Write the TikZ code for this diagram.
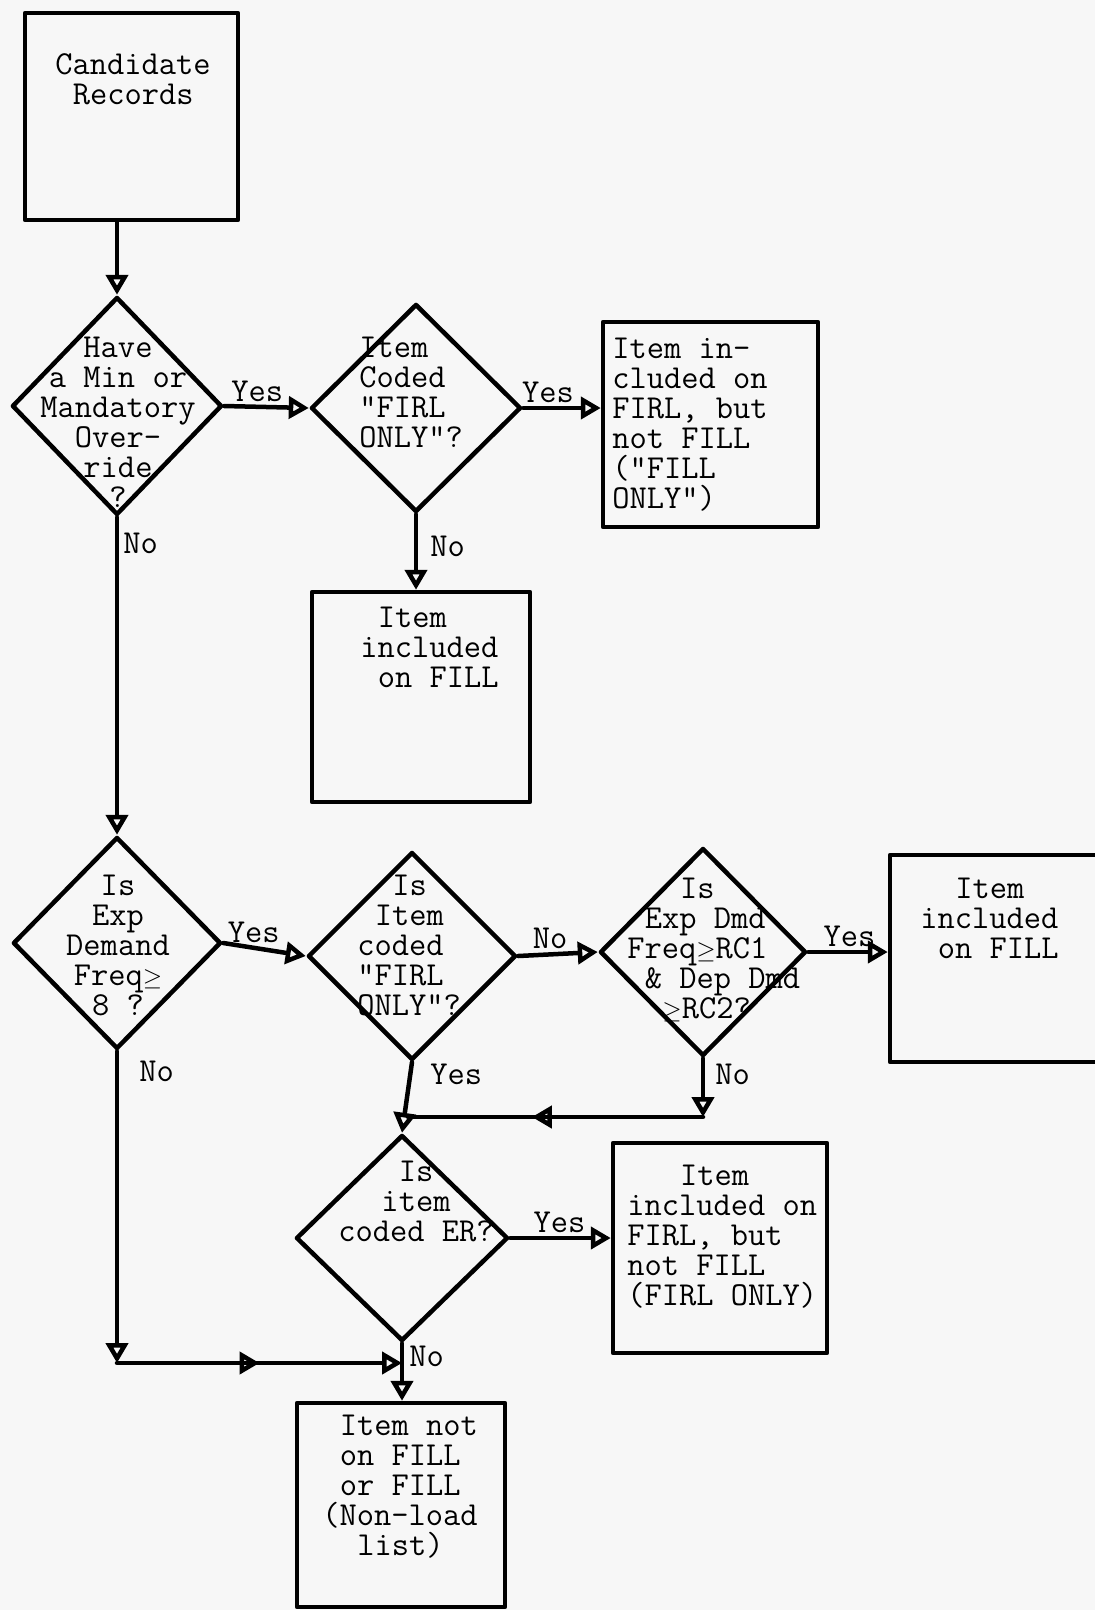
\documentclass[tikz,border=0pt]{standalone}
\usepackage{fontspec}
\usetikzlibrary{shapes.geometric,arrows.meta,decorations.markings}
\newcommand\tsp{\hspace*{0.525em}}
\begin{document}
\begin{tikzpicture}[x=1pt,y=-1pt,line width=4.5pt,line join=round,line cap=round,
    >={Triangle[open,length=20pt,width=22pt]},
    font=\ttfamily\fontsize{33.5}{30}\selectfont,
    box/.style={draw,inner sep=0pt},
    dec/.style={draw,diamond,inner sep=0pt},
    txt/.style={inner sep=0pt,align=left},
    lab/.style={inner sep=0pt},
    midarr/.style={postaction={decorate,decoration={markings,mark=at position #1 with {\arrow{>}}}}}]
    \fill[black!3] (0,0) rectangle (1095,1610);
    \useasboundingbox (0,0) rectangle (1095,1610);
    % boxes
    \node[box,minimum width=213pt,minimum height=207pt] (cand) at (131.5,116.5) {};
    \node[box,minimum width=215pt,minimum height=205pt] (fillonly) at (710.5,424.5) {};
    \node[box,minimum width=218pt,minimum height=210pt] (fill1) at (421,697) {};
    \node[box,minimum width=230pt,minimum height=207pt] (fill2) at (1005,958.5) {};
    \node[box,minimum width=214pt,minimum height=210pt] (firlonly) at (720,1248) {};
    \node[box,minimum width=208pt,minimum height=204pt] (nonload) at (401,1505) {};
    % decisions
    \node[dec,minimum width=210pt,minimum height=218pt] (d1) at (117,406) {};
    \node[dec,minimum width=210pt,minimum height=208pt] (d2) at (416,408) {};
    \node[dec,minimum width=208pt,minimum height=212pt] (d3) at (117,943) {};
    \node[dec,minimum width=208pt,minimum height=208pt] (d4) at (412,956) {};
    \node[dec,minimum width=206pt,minimum height=208pt] (d5) at (703,952) {};
    \node[dec,minimum width=212pt,minimum height=206pt] (d6) at (402,1238) {};
    % texts
    \node[txt,anchor=north west] (candt) at (53,51) {Candidate\\\tsp Records};
    \node[txt,anchor=north,align=center] (d1t) at (118,335) {Have\\a Min or\\Mandatory\\Over-\\ride\\?};
    \node[txt,anchor=north west] (d2t) at (357,335) {Item\\Coded\\"FIRL\\ONLY"?};
    \node[txt,anchor=north west] (fillonlyt) at (610,336) {Item in-\\cluded on\\FIRL, but\\not FILL\\("FILL\\ONLY")};
    \node[txt,anchor=north west] (fill1t) at (358,605) {\tsp Item\\included\\\tsp on FILL};
    \node[txt,anchor=north,align=center] (d3t) at (118,873) {Is\\Exp\\Demand\\Freq$\geq$\\8 ?};
    \node[txt,anchor=north west] (d4t) at (355,873) {\tsp\tsp Is\\\tsp Item\\coded\\"FIRL\\ONLY"?};
    \node[txt,anchor=north west] (d5t) at (625,876) {\tsp\tsp\tsp Is\\\tsp Exp Dmd\\Freq$\geq$RC1\\\tsp\& Dep Dmd\\\tsp\tsp$\geq$RC2?};
    \node[txt,anchor=north west] (fill2t) at (918,876) {\tsp\tsp Item\\included\\\tsp on FILL};
    \node[txt,anchor=north,align=center] (d6t) at (416,1159) {Is\\item\\coded ER?};
    \node[txt,anchor=north west] (firlonlyt) at (625,1163) {\tsp\tsp\tsp Item\\included on\\FIRL, but\\not FILL\\(FIRL ONLY)};
    \node[txt,anchor=north west] (nonloadt) at (320,1413) {\tsp Item not\\\tsp on FILL\\\tsp or FILL\\(Non-load\\\tsp\tsp list)};
    \coordinate (join) at (408,1117);
    \coordinate (merge) at (402,1363);
    % connectors
    \draw[->] (d1.north |- cand.south) -- (d1.north);
    \draw[->] (d1.east) -- node[lab,above=3pt,pos=0.39] (yes1) {Yes} (d2.west);
    \draw[->] (d2.east) -- node[lab,above=3pt,pos=0.32] (yes2) {Yes} (d2.east -| fillonly.west);
    \draw[->] (d2.south) node[lab,anchor=north west,xshift=12pt,yshift=-20pt] (no2) {No} -- (d2.south |- fill1.north);
    \draw[->] (d1.south) node[lab,anchor=north west,xshift=4pt,yshift=-14pt] (no1) {No} -- (d3.north);
    \draw[->] (d3.east) -- node[lab,above=3pt,pos=0.37] (yes3) {Yes} (d4.west);
    \draw[->] (d4.east) -- node[lab,above=3pt,pos=0.4] (no4) {No} (d5.west);
    \draw[->] (d5.east) -- node[lab,above=3pt,pos=0.52] (yes5) {Yes} (d5.east -| fill2.west);
    \draw[->] (d5.south) node[lab,anchor=north west,xshift=10pt,yshift=-4pt] (no5) {No} -- (d5.south |- join);
    \draw[midarr=0.58] (d5.south |- join) -- (join);
    \draw[->] (d4.south) node[lab,anchor=north west,xshift=16pt,yshift=0pt] (yes4) {Yes} -- (d6.north);
    \draw[->] (d6.east) -- node[lab,above=3pt,pos=0.49] (yes6) {Yes} (d6.east -| firlonly.west);
    \draw[->] (d6.south) node[lab,anchor=north west,xshift=5pt,yshift=-1pt] (no6) {No} -- (d6.south |- nonload.north);
    \draw[->] (d3.south) node[lab,anchor=north west,xshift=20pt,yshift=-8pt] (no3) {No} -- (d3.south |- merge);
    \draw[->,midarr=0.5] (d3.south |- merge) -- (merge);
\end{tikzpicture}
\end{document}
